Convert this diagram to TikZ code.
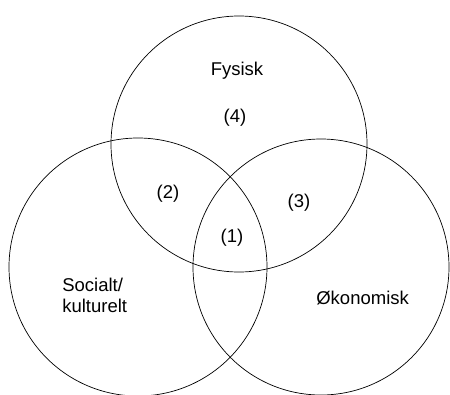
\documentclass[tikz,border=0pt]{standalone}
\usepackage{fontspec}
\setmainfont{Liberation Sans}
\begin{document}
\begin{tikzpicture}[x=1pt,y=-1pt,line width=0.7pt]
\tikzset{lbl/.style={font=\fontsize{18.5}{21}\selectfont,align=left,inner sep=0pt}}
\useasboundingbox (0,0) rectangle (450,394);
% the three circles
\draw (239,144) circle[radius=128pt];
\draw (138,267) circle[radius=129pt];
\draw (321,267) circle[radius=128pt];
% names
\node[lbl] (fysisk) at (237,71) {Fysisk};
\node[lbl,anchor=west] (sosial) at (62,295) {Socialt/\\kulturelt};
\node[lbl,anchor=west] (okonom) at (316,298) {Økonomisk};
% regions
\node[lbl] (r4) at (235,118) {(4)};
\node[lbl] (r2) at (168,194) {(2)};
\node[lbl] (r3) at (299,203) {(3)};
\node[lbl] (r1) at (232,238) {(1)};
\end{tikzpicture}
\end{document}
